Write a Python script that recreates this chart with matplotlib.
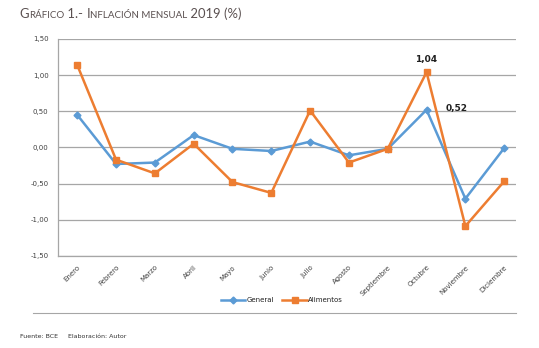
"""Monthly inflation 2019: general vs food, line chart."""
import matplotlib
matplotlib.use("Agg")
import matplotlib.pyplot as plt
from matplotlib.lines import Line2D
from matplotlib.offsetbox import AnchoredOffsetbox, HPacker, TextArea

MONTHS = ["Enero", "Febrero", "Marzo", "Abril", "Mayo", "Junio", "Julio",
          "Agosto", "Septiembre", "Octubre", "Noviembre", "Diciembre"]
GENERAL = [0.45, -0.23, -0.21, 0.17, -0.02, -0.05, 0.08, -0.11, -0.02, 0.52, -0.71, -0.01]
ALIMENTOS = [1.14, -0.17, -0.36, 0.05, -0.48, -0.63, 0.51, -0.21, -0.02, 1.04, -1.09, -0.47]
Y_TICKS = [-1.5, -1.0, -0.5, 0.0, 0.5, 1.0, 1.5]

BLUE = "#5B9BD5"
ORANGE = "#ED7D31"
GRID = "#A6A6A6"
TEXT = "#404040"

fig = plt.figure(figsize=(5.39, 3.48), dpi=100)
ax = fig.add_axes([0.108, 0.265, 0.849, 0.623])

x = range(len(MONTHS))
ax.plot(x, GENERAL, color=BLUE, lw=1.8, marker="D", ms=3.5, label="General", zorder=3)
ax.plot(x, ALIMENTOS, color=ORANGE, lw=1.8, marker="s", ms=5, label="Alimentos", zorder=4)

ax.set_ylim(-1.5, 1.5)
ax.set_xlim(-0.49, 11.3)
ax.set_yticks(Y_TICKS)
ax.set_yticklabels([f"{v:.2f}".replace(".", ",") for v in Y_TICKS], fontsize=5, color=TEXT)
ax.set_xticks(list(x))
ax.set_xticklabels(MONTHS, rotation=45, ha="right", rotation_mode="anchor", fontsize=5, color=TEXT)
ax.tick_params(length=0, pad=7)
ax.tick_params(axis="x", pad=6)
ax.grid(axis="y", color=GRID, lw=0.9)
ax.set_axisbelow(True)
for side in ("top", "right"):
    ax.spines[side].set_visible(False)
for side in ("left", "bottom"):
    ax.spines[side].set_color(GRID)
    ax.spines[side].set_linewidth(0.9)

# data labels for October
ax.annotate(f"{ALIMENTOS[9]:.2f}".replace(".", ","), (9, ALIMENTOS[9]), xytext=(0, 6),
            textcoords="offset points", ha="center", va="bottom", fontsize=6.5,
            fontweight="bold", color="#202020")
ax.annotate(f"{GENERAL[9]:.2f}".replace(".", ","), (9, GENERAL[9]), xytext=(14, 1),
            textcoords="offset points", ha="left", va="center", fontsize=6.5,
            fontweight="bold", color="#202020")

handles = [Line2D([], [], color=BLUE, lw=1.8, marker="D", ms=3.5),
           Line2D([], [], color=ORANGE, lw=1.8, marker="s", ms=5)]
fig.legend(handles, ["General", "Alimentos"], loc="center", bbox_to_anchor=(0.523, 0.138),
           ncol=2, frameon=False, fontsize=5, handlelength=3.5, columnspacing=1.2,
           handletextpad=0.2, labelcolor="#202020")

# title in small caps style
parts = [("G", 9.4), ("RÁFICO", 7), (" 1.- ", 9.4), ("I", 9.4),
         ("NFLACIÓN MENSUAL", 7), (" 2019 (%)", 9.4)]
boxes = [TextArea(t, textprops=dict(fontsize=s, color="#5a5050", family="Lato"))
         for t, s in parts]
title = AnchoredOffsetbox(loc="lower left", child=HPacker(children=boxes, align="baseline", pad=0, sep=0),
                          bbox_to_anchor=(0.036, 0.942), bbox_transform=fig.transFigure,
                          frameon=False, pad=0, borderpad=0)
fig.add_artist(title)

fig.add_artist(Line2D([0.061, 0.957], [1 - 313 / 348] * 2, color="#A6A6A6", lw=0.8,
                      transform=fig.transFigure))
fig.text(0.037, 1 - 337 / 348, "Fuente: BCE     Elaboración: Autor", fontsize=4.5,
         color="#303030", va="center")

fig.savefig("out.png", dpi=100)
